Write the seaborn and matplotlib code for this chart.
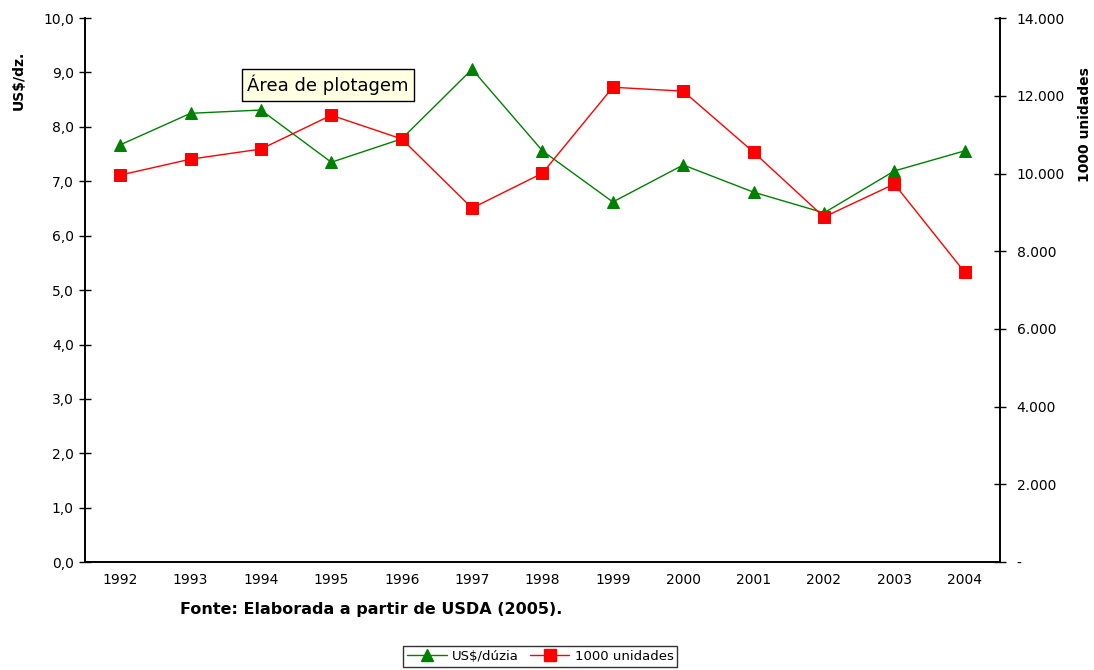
import seaborn as sns
import matplotlib.pyplot as plt
import matplotlib.ticker as mticker
import pandas as pd
from matplotlib.lines import Line2D

years = ["1992", "1993", "1994", "1995", "1996", "1997", "1998",
         "1999", "2000", "2001", "2002", "2003", "2004"]
preco = [7.67, 8.25, 8.31, 7.35, 7.78, 9.06, 7.56, 6.62, 7.30, 6.80, 6.42, 7.19, 7.56]
unidades = [9960, 10370, 10630, 11500, 10890, 9110, 10010, 12220, 12120, 10550, 8880, 9730, 7460]

sns.set_style("white")
plt.rcParams["font.family"] = ["DejaVu Sans"]
plt.rcParams["text.color"] = "black"
plt.rcParams["xtick.color"] = "black"
plt.rcParams["ytick.color"] = "black"

df = pd.DataFrame({"ano": years, "preco": preco, "unidades": unidades})
df["pos"] = range(len(years))

fig = plt.figure(figsize=(10.94, 6.70), dpi=100)
ax = fig.add_axes([0.0777, 0.161, 0.8363, 0.812])
ax2 = ax.twinx()

sns.lineplot(data=df, x="pos", y="preco", ax=ax, color="#008000", marker="^",
             markersize=9, markeredgecolor="#008000", linewidth=1)
sns.lineplot(data=df, x="pos", y="unidades", ax=ax2, color="#ff0000", marker="s",
             markersize=9, markeredgecolor="#ff0000", linewidth=1)

ax.set_xlim(-0.5, len(years) - 0.5)
ax.set_ylim(0, 10)
ax2.set_ylim(0, 14000)

ax.set_yticks(range(0, 11))
ax.yaxis.set_major_formatter(mticker.FuncFormatter(lambda v, p: f"{v:.1f}".replace(".", ",")))
ax2.set_yticks(range(0, 14001, 2000))
ax2.yaxis.set_major_formatter(mticker.FuncFormatter(
    lambda v, p: "-" if v == 0 else f"{int(v):,}".replace(",", ".")))

ax.set_xticks([i + 0.5 for i in range(-1, len(years))])
ax.set_xticklabels([])
ax.set_xticks(range(len(years)), minor=True)
ax.set_xticklabels(years, minor=True)
ax.tick_params(axis="x", which="major", direction="inout", length=8, width=1, color="black")
ax.tick_params(axis="x", which="minor", length=0, pad=8, labelsize=10)
ax.tick_params(axis="y", direction="inout", length=8, width=1, color="black", labelsize=10, pad=4)
ax2.tick_params(axis="y", direction="inout", length=8, width=1, color="black", labelsize=10, pad=8)

for a in (ax, ax2):
    a.spines["top"].set_visible(False)
    for s in ("left", "right", "bottom"):
        a.spines[s].set_color("black")
        a.spines[s].set_linewidth(1.2)

ax.set_xlabel("")
ax.set_ylabel("")
ax2.set_ylabel("")
fig.text(0.017, 1 - 80 / 670, "US$/dz.", rotation=90, fontweight="bold", fontsize=10,
         ha="center", va="center")
fig.text(0.992, 1 - 125 / 670, "1000 unidades", rotation=90, fontweight="bold", fontsize=10,
         ha="center", va="center")

fig.text(0.339, 0.09, "Fonte: Elaborada a partir de USDA (2005).",
         ha="center", va="center", fontweight="bold", fontsize=11.5)

ax.text(0.177, 0.877, "Área de plotagem", transform=ax.transAxes, fontsize=13,
        ha="left", va="center",
        bbox=dict(boxstyle="square,pad=0.3", facecolor="#ffffe1", edgecolor="black", linewidth=1))

handles = [Line2D([], [], color="#008000", marker="^", markersize=8, linewidth=1),
           Line2D([], [], color="#ff0000", marker="s", markersize=8, linewidth=1)]
fig.legend(handles, ["US$/dúzia", "1000 unidades"], loc="center", ncol=2,
           bbox_to_anchor=(0.494, 0.02), frameon=True, fancybox=False,
           edgecolor="black", fontsize=9.5, handlelength=3, columnspacing=0.8,
           borderpad=0.3, handletextpad=0.4)
fig.legends[0].get_frame().set_linewidth(1)

fig.savefig("out.png", dpi=100, facecolor="white")
